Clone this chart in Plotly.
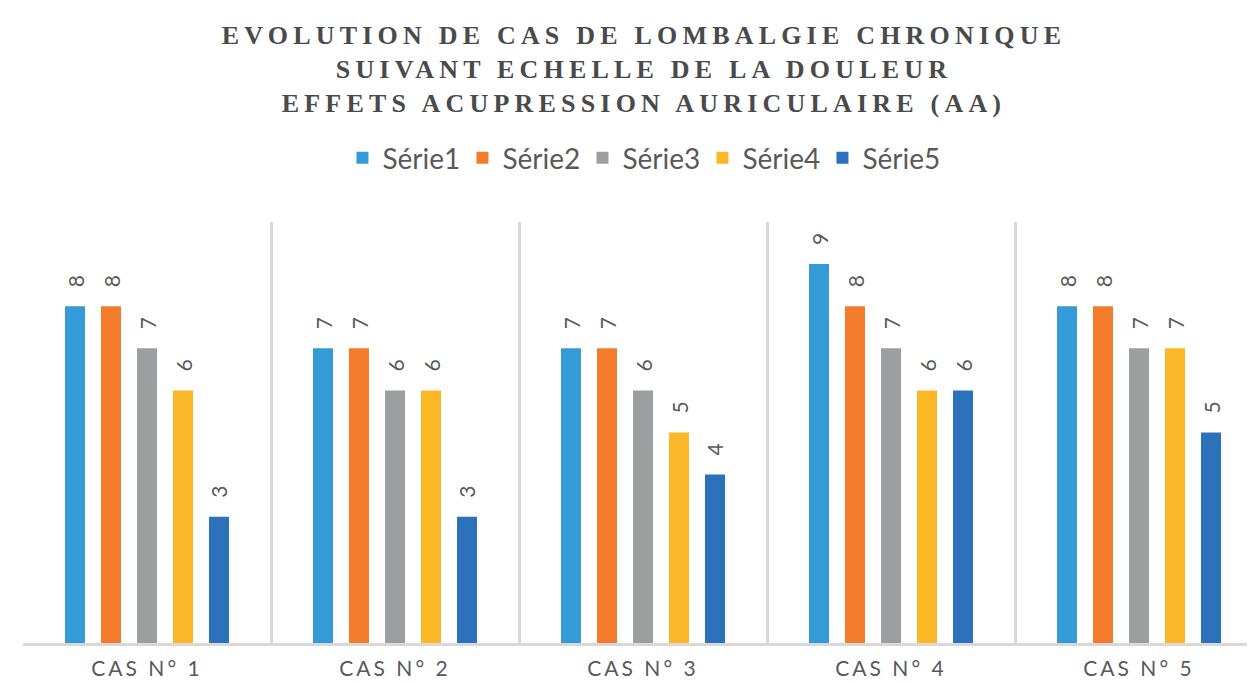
import plotly.graph_objects as go

categories = ["CAS N° 1", "CAS N° 2", "CAS N° 3", "CAS N° 4", "CAS N° 5"]
series_names = ["Série1", "Série2", "Série3", "Série4", "Série5"]
serie1 = [8, 7, 7, 9, 8]
serie2 = [8, 7, 7, 8, 8]
serie3 = [7, 6, 6, 7, 7]
serie4 = [6, 6, 5, 6, 7]
serie5 = [3, 3, 4, 6, 5]
series_values = [serie1, serie2, serie3, serie4, serie5]
colors = ["#349BD6", "#F27C2C", "#9C9E9F", "#FBB726", "#2C72BA"]

title_lines = [
    "EVOLUTION DE CAS DE LOMBALGIE CHRONIQUE",
    "SUIVANT ECHELLE DE LA DOULEUR",
    "EFFETS ACUPRESSION AURICULAIRE (AA)",
]

# page body has an 8px margin, so the figure is sized to fit the window
W, H = 1247, 675
ML, MR, MT, MB = 15, 0, 214, 40
cat_px = 248.0
plot_w = W - ML - MR
plot_h = H - MT - MB
x_hi = -0.5 + plot_w / cat_px

fig = go.Figure()
for name, vals, col in zip(series_names, series_values, colors):
    fig.add_trace(go.Bar(x=categories, y=vals, name=name, marker_color=col,
                         marker_line_width=0))

slot_px = 36
annotations = []
for s, vals in enumerate(series_values):
    for c, v in zip(categories, vals):
        annotations.append(dict(
            x=c, y=v, xref="x", yref="y", text=str(v), showarrow=False,
            textangle=-90, xshift=(s - 2) * slot_px, yshift=25,
            yanchor="middle", xanchor="center",
            font=dict(family="Lato, Open Sans, sans-serif", size=21, color="#595959"),
        ))

title_text = "<br>".join(
    '<span style="letter-spacing:5.2px">%s</span>' % t for t in title_lines)

fig.update_layout(
    width=W, height=H,
    margin=dict(l=ML, r=MR, t=MT, b=MB, autoexpand=False),
    paper_bgcolor="white", plot_bgcolor="white",
    barmode="group", bargap=0.274, bargroupgap=0.444,
    title=dict(text="<b>" + title_text + "</b>", x=636 / W, xanchor="center",
               y=1 - 36 / H, yanchor="top", yref="container",
               font=dict(family="Liberation Serif, Times New Roman, serif",
                         size=26, color="#4a4a4a")),
    legend=dict(orientation="h", x=627 / W, xanchor="center",
                y=(H - MB - 150) / plot_h, yanchor="middle",
                font=dict(family="Lato, Open Sans, sans-serif", size=28, color="#595959"),
                entrywidth=75, itemwidth=30, tracegroupgap=0),
    annotations=annotations,
    xaxis=dict(range=[-0.5, x_hi], tickson="boundaries", showgrid=True,
               gridcolor="#d9d9d9", gridwidth=3, showline=True,
               linecolor="#d9d9d9", linewidth=3, ticks="", zeroline=False,
               automargin=False,
               tickmode="array", tickvals=categories,
               ticktext=['<span style="letter-spacing:3px">%s</span>' % c for c in categories],
               ticklabelstandoff=5,
               tickfont=dict(family="Lato, Open Sans, sans-serif", size=21, color="#595959")),
    yaxis=dict(range=[0, 10], showgrid=False, zeroline=False, showticklabels=False,
               ticks="", showline=False, automargin=False),
)

fig.write_html("out.html")
